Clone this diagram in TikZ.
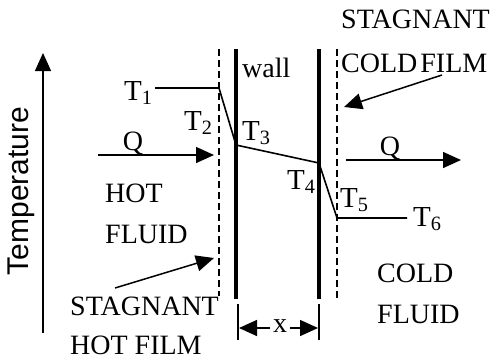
\documentclass[tikz,border=0pt]{standalone}
\usepackage{fontspec}
\setmainfont{Liberation Serif}
\newfontfamily\sansf{Liberation Sans}
\usetikzlibrary{arrows.meta}
\begin{document}
\begin{tikzpicture}[x=1pt,y=-1pt,
  lab/.style={inner sep=0pt,anchor=base west,font=\fontsize{28}{30}\selectfont},
  tlab/.style={inner sep=0pt,anchor=base west,font=\fontsize{29}{30}\selectfont},
  thin line/.style={line width=1.6pt},
  wallline/.style={line width=3.2pt},
  film/.style={line width=1.5pt,dash pattern=on 7pt off 4pt},
  tip/.style={-{Triangle[length=18pt,width=16pt]},line width=1.5pt}]
\useasboundingbox (0,0) rectangle (490,360);
% walls and films
\coordinate (lft) at (219,49); \coordinate (lfb) at (219,296);
\coordinate (wlt) at (236,49); \coordinate (wlb) at (236,299);
\coordinate (wrt) at (319,49); \coordinate (wrb) at (319,299);
\coordinate (rft) at (337,49); \coordinate (rfb) at (337,298);
\draw[film] (lft) -- (lfb);
\draw[film] (rft) -- (rfb);
\draw[wallline] (wlt) -- (wlb);
\draw[wallline] (wrt) -- (wrb);
% temperature profile
\coordinate (t1s) at (155,88);
\coordinate (p2) at (219,88);
\coordinate (p3) at (236,145);
\coordinate (p4) at (319,163);
\coordinate (p5) at (337,218);
\coordinate (t6e) at (407,218);
\draw[thin line] (t1s) -- (p2) -- (p3) -- (p4) -- (p5) -- (t6e);
% temperature labels
\node[tlab] (T1) at (124,100) {T\textsubscript{1}};
\node[tlab] (T2) at (184,130) {T\textsubscript{2}};
\node[tlab] (T3) at (242,140) {T\textsubscript{3}};
\node[tlab] (T4) at (287,189) {T\textsubscript{4}};
\node[tlab] (T5) at (340,207) {T\textsubscript{5}};
\node[tlab] (T6) at (413,226) {T\textsubscript{6}};
% wall label
\node[lab] (wall) at (242,77) {wall};
% heat flow arrows
\coordinate (qls) at (98,155); \coordinate (qle) at (214,155);
\draw[tip] (qls) -- (qle);
\node[lab,anchor=base] (Ql) at (133,150) {Q};
\coordinate (qrs) at (346,160); \coordinate (qre) at (461,160);
\draw[tip] (qrs) -- (qre);
\node[lab,anchor=base] (Qr) at (390,155) {Q};
% fluid labels
\node[lab] (hot) at (105,202) {HOT};
\node[lab] (hfluid) at (105,243) {FLUID};
\node[lab] (cold) at (377,282) {COLD};
\node[lab] (cfluid) at (377,323) {FLUID};
% film labels
\node[lab] (stagtop) at (341,28) {STAGNANT};
\node[lab] (coldfilm) at (341,72) {COLD\hspace{3pt}FILM};
\coordinate (ctip) at (344,107); \coordinate (cstart) at (442,75);
\draw[tip] (cstart) -- (ctip);
\node[lab] (stagbot) at (70,315) {STAGNANT};
\node[lab] (hotfilm) at (70,354) {HOT FILM};
\coordinate (hstart) at (115,288); \coordinate (htip) at (214,258);
\draw[tip] (hstart) -- (htip);
% thickness dimension
\coordinate (dl1) at (238,304); \coordinate (dl2) at (238,340);
\coordinate (dr1) at (319,304); \coordinate (dr2) at (319,340);
\draw[line width=1.2pt] (dl1) -- (dl2);
\draw[line width=1.2pt] (dr1) -- (dr2);
\node[lab,anchor=center] (xl) at (280,326) {x};
\coordinate (dla) at (239,328); \coordinate (dra) at (318,328);
\draw[tip] (xl.west |- dla) ++(-3,0) coordinate (xlw) (xlw) -- (dla);
\draw[tip] (xl.east |- dra) ++(3,0) coordinate (xle) (xle) -- (dra);
% temperature axis
\coordinate (ab) at (43,333); \coordinate (at) at (43,53);
\draw[line width=1.4pt,-{Triangle[length=18pt,width=16pt]}] (ab) -- (at);
\node[font=\sansf\fontsize{30}{32}\selectfont,rotate=90,inner sep=0pt] (templab) at (21,191) {Temperature};
\end{tikzpicture}
\end{document}
